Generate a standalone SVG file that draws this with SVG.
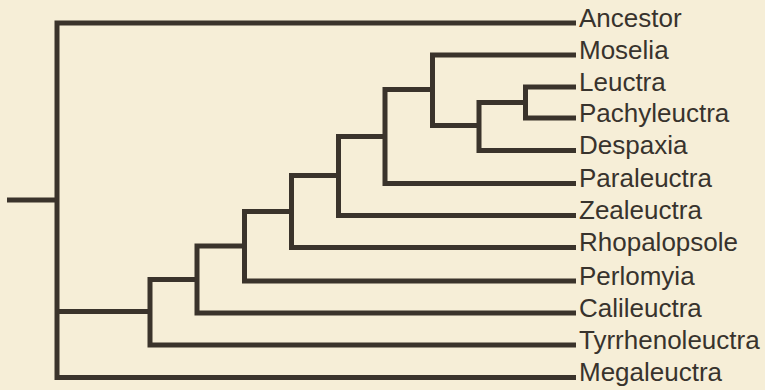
<svg xmlns="http://www.w3.org/2000/svg" width="765" height="390" viewBox="0 0 765 390">
<style>
.bg{fill:#f6eed7}
.ln{fill:none;stroke:#3a332b;stroke-width:5;stroke-linejoin:miter;stroke-linecap:butt}
.lb{font-family:"Liberation Sans",Arial,sans-serif;font-size:26px;fill:#38332d}
</style>
<rect class="bg" x="0" y="0" width="765" height="390"/>
<g id="connectors">
<path class="ln" d="M7 200 H57"/>
<path class="ln" d="M576 23 H57 V377.5 H576"/>
<path class="ln" d="M150 311.5 H57"/>
<path class="ln" d="M197 279.5 H150 V345 H576"/>
<path class="ln" d="M244.5 246 H197 V313 H576"/>
<path class="ln" d="M291.5 211.5 H244.5 V281 H576"/>
<path class="ln" d="M338.5 175.5 H291.5 V247.5 H576"/>
<path class="ln" d="M385 136.5 H338.5 V215.5 H576"/>
<path class="ln" d="M432.5 89.5 H385 V183.5 H576"/>
<path class="ln" d="M576 55 H432.5 V125.5 H479"/>
<path class="ln" d="M525.5 102.5 H479 V150.5 H576"/>
<path class="ln" d="M576 87 H525.5 V118 H576"/>
</g>
<g id="node-ancestor"><text class="lb" x="579" y="26.5">Ancestor</text></g>
<g id="node-moselia"><text class="lb" x="579" y="58.5">Moselia</text></g>
<g id="node-leuctra"><text class="lb" x="579" y="90.5">Leuctra</text></g>
<g id="node-pachyleuctra"><text class="lb" x="579" y="121.5">Pachyleuctra</text></g>
<g id="node-despaxia"><text class="lb" x="579" y="154">Despaxia</text></g>
<g id="node-paraleuctra"><text class="lb" x="579" y="187">Paraleuctra</text></g>
<g id="node-zealeuctra"><text class="lb" x="579" y="219">Zealeuctra</text></g>
<g id="node-rhopalopsole"><text class="lb" x="579" y="251">Rhopalopsole</text></g>
<g id="node-perlomyia"><text class="lb" x="579" y="284.5">Perlomyia</text></g>
<g id="node-calileuctra"><text class="lb" x="579" y="316.5">Calileuctra</text></g>
<g id="node-tyrrhenoleuctra"><text class="lb" x="579" y="348.5">Tyrrhenoleuctra</text></g>
<g id="node-megaleuctra"><text class="lb" x="579" y="381">Megaleuctra</text></g>
</svg>
